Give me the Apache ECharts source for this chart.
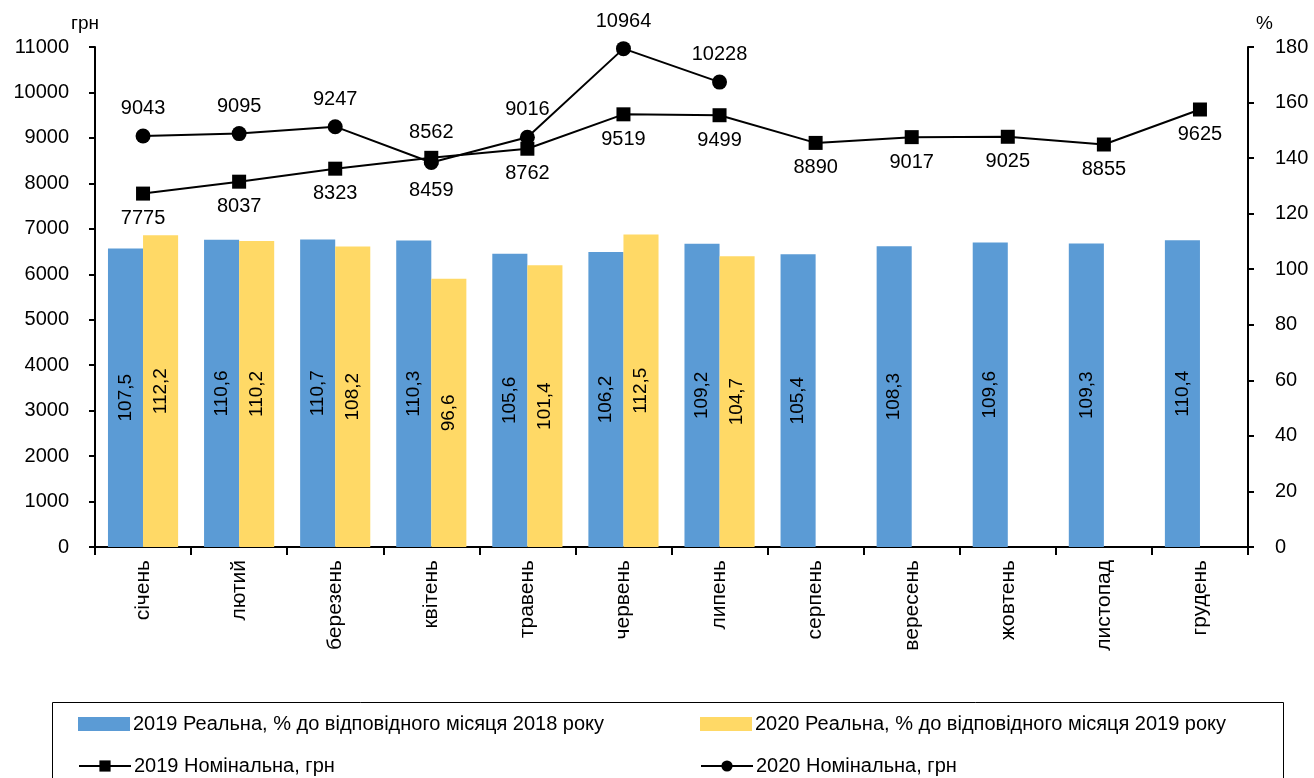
<!DOCTYPE html>
<html>
<head>
<meta charset="utf-8">
<script src="https://cdn.jsdelivr.net/npm/echarts@6/dist/echarts.min.js"></script>
<style>html,body{margin:0;padding:0;background:#fff;}#c{width:1314px;height:778px;}</style>
</head>
<body>
<div id="c"></div>
<script>
const categories = ['січень','лютий','березень','квітень','травень','червень','липень','серпень','вересень','жовтень','листопад','грудень'];
const real2019 = [107.5,110.6,110.7,110.3,105.6,106.2,109.2,105.4,108.3,109.6,109.3,110.4];
const real2020 = [112.2,110.2,108.2,96.6,101.4,112.5,104.7,null,null,null,null,null];
const nominal2019 = [7775,8037,8323,8562,8762,9519,9499,8890,9017,9025,8855,9625];
const nominal2020 = [9043,9095,9247,8459,9016,10964,10228,null,null,null,null,null];
const names = {
  r19: '2019 Реальна, % до відповідного місяця 2018 року',
  r20: '2020 Реальна, % до відповідного місяця 2019 року',
  n19: '2019 Номінальна, грн',
  n20: '2020 Номінальна, грн'
};

const FONT = 'Liberation Sans';
const fmtPct = p => p.value == null ? '' : Number(p.value).toFixed(1).replace('.', ',');
const flipIdx = 3;

const chart = echarts.init(document.getElementById('c'));
const mkLegend = (name, left, top, icon) => {
  const l = {
    orient: 'horizontal', left: left, top: top, itemWidth: 52, itemHeight: 14, itemGap: 10,
    data: [name],
    textStyle: {fontFamily: FONT, fontSize: 20, color: '#000', padding: [0, 0, 0, -2]}
  };
  if (icon) l.icon = icon;
  return l;
};
chart.setOption({
  animation: false,
  textStyle: {fontFamily: FONT},
  grid: {left: 95, right: 66, top: 47, bottom: 231},
  legend: [
    mkLegend(names.r19, 73, 709, 'rect'),
    mkLegend(names.r20, 695, 709, 'rect'),
    mkLegend(names.n19, 73, 751),
    mkLegend(names.n20, 695, 751)
  ],
  graphic: [{
    type: 'rect', shape: {x: 52.5, y: 702.5, width: 1231, height: 120},
    style: {fill: 'none', stroke: '#000', lineWidth: 1}, silent: true
  }],
  xAxis: {
    type: 'category', data: categories,
    axisLine: {lineStyle: {color: '#000', width: 2}},
    axisTick: {show: true, length: 8, lineStyle: {color: '#000', width: 2}},
    axisLabel: {rotate: 90, color: '#000', fontSize: 21, fontFamily: FONT, margin: 13, interval: 0}
  },
  yAxis: [{
    type: 'value', min: 0, max: 11000, interval: 1000,
    name: 'грн', nameLocation: 'end', nameGap: 14,
    nameTextStyle: {color: '#000', fontSize: 19, fontFamily: FONT, align: 'right', padding: [0, -4, 0, 0]},
    axisLine: {show: true, lineStyle: {color: '#000', width: 2}},
    axisTick: {show: true, length: 6, lineStyle: {color: '#000', width: 2}},
    axisLabel: {color: '#000', fontSize: 20, fontFamily: FONT, margin: 26, formatter: v => String(v)},
    splitLine: {show: false}
  }, {
    type: 'value', min: 0, max: 180, interval: 20, position: 'right',
    name: '%', nameLocation: 'end', nameGap: 14,
    nameTextStyle: {color: '#000', fontSize: 19, fontFamily: FONT, align: 'left', padding: [0, 0, 0, 8]},
    axisLine: {show: true, lineStyle: {color: '#000', width: 2}},
    axisTick: {show: true, length: 6, lineStyle: {color: '#000', width: 2}},
    axisLabel: {color: '#000', fontSize: 20, fontFamily: FONT, margin: 27, formatter: v => String(v)},
    splitLine: {show: false}
  }],
  series: [{
    name: names.r19, type: 'bar', yAxisIndex: 1, data: real2019,
    barGap: '0%', barCategoryGap: '27%',
    itemStyle: {color: '#5B9BD5'},
    label: {show: true, position: 'inside', rotate: 90, formatter: fmtPct, color: '#000', fontSize: 19, fontFamily: FONT}
  }, {
    name: names.r20, type: 'bar', yAxisIndex: 1, data: real2020,
    itemStyle: {color: '#FFD966'},
    label: {show: true, position: 'inside', rotate: 90, formatter: fmtPct, color: '#000', fontSize: 19, fontFamily: FONT}
  }, {
    name: names.n19, type: 'line', yAxisIndex: 0, z: 5,
    data: nominal2019.map((v, i) => i === flipIdx ? {value: v, label: {position: 'top'}} : v),
    symbol: 'rect', symbolSize: 14,
    lineStyle: {color: '#000', width: 2}, itemStyle: {color: '#000'},
    label: {show: true, position: 'bottom', distance: 8, color: '#000', fontSize: 20, fontFamily: FONT}
  }, {
    name: names.n20, type: 'line', yAxisIndex: 0, z: 6,
    data: nominal2020.map((v, i) => i === flipIdx ? {value: v, label: {position: 'bottom'}} : v),
    symbol: 'circle', symbolSize: 15,
    lineStyle: {color: '#000', width: 2}, itemStyle: {color: '#000'},
    label: {show: true, position: 'top', distance: 10, color: '#000', fontSize: 20, fontFamily: FONT}
  }]
});
</script>
</body>
</html>
